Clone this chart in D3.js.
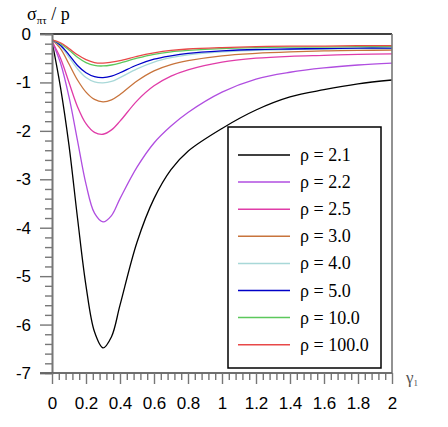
<!DOCTYPE html>
<html>
<head>
<meta charset="utf-8">
<script src="https://cdn.jsdelivr.net/npm/d3@7"></script>
<style>
  body { margin: 0; background: #fff; }
  svg { display: block; }
</style>
</head>
<body>
<div id="chart"></div>
<script>
// gamma_1 sample positions
const gammaVals = [0, 0.05, 0.1, 0.15, 0.2, 0.25, 0.3, 0.35, 0.4, 0.5, 0.6, 0.7, 0.8, 1.0, 1.2, 1.4, 1.6, 1.8, 2.0];

// sigma / p, one array per rho
const rho21  = [-0.15, -1.1, -2.3, -3.8, -5.2, -6.15, -6.48, -6.25, -5.6, -4.3, -3.4, -2.8, -2.42, -1.95, -1.57, -1.3, -1.15, -1.03, -0.95];
const rho22  = [-0.15, -0.6, -1.3, -2.2, -3.1, -3.7, -3.88, -3.75, -3.4, -2.75, -2.25, -1.9, -1.62, -1.2, -0.93, -0.79, -0.7, -0.64, -0.6];
const rho25  = [-0.15, -0.5, -1.0, -1.5, -1.85, -2.03, -2.07, -1.98, -1.8, -1.38, -1.07, -0.87, -0.74, -0.58, -0.5, -0.46, -0.44, -0.42, -0.41];
const rho30  = [-0.12, -0.3, -0.62, -0.95, -1.2, -1.35, -1.4, -1.36, -1.25, -0.97, -0.76, -0.63, -0.55, -0.45, -0.4, -0.37, -0.35, -0.34, -0.33];
const rho40  = [-0.12, -0.25, -0.48, -0.72, -0.9, -0.99, -1.01, -0.98, -0.9, -0.72, -0.58, -0.49, -0.43, -0.37, -0.34, -0.32, -0.31, -0.3, -0.3];
const rho50  = [-0.12, -0.23, -0.43, -0.65, -0.8, -0.88, -0.9, -0.87, -0.8, -0.64, -0.52, -0.45, -0.4, -0.35, -0.32, -0.31, -0.3, -0.29, -0.29];
const rho100 = [-0.12, -0.2, -0.33, -0.48, -0.59, -0.65, -0.66, -0.64, -0.6, -0.5, -0.42, -0.37, -0.34, -0.3, -0.28, -0.27, -0.27, -0.26, -0.26];
const rho1000 = [-0.12, -0.18, -0.3, -0.43, -0.53, -0.59, -0.6, -0.58, -0.55, -0.46, -0.39, -0.34, -0.31, -0.28, -0.26, -0.25, -0.25, -0.24, -0.24];

const seriesLabels = ["ρ = 2.1", "ρ = 2.2", "ρ = 2.5", "ρ = 3.0", "ρ = 4.0", "ρ = 5.0", "ρ = 10.0", "ρ = 100.0"];
const seriesValues = [rho21, rho22, rho25, rho30, rho40, rho50, rho100, rho1000];
const seriesColors = ["#000000", "#b04ee0", "#e03ca8", "#c8743c", "#a8d8d8", "#0000c8", "#5cc85c", "#e84848"];

const xTickLabels = [0, 0.2, 0.4, 0.6, 0.8, 1, 1.2, 1.4, 1.6, 1.8, 2];
const yTickLabels = [0, -1, -2, -3, -4, -5, -6, -7];

const serifFont = "'Liberation Serif', 'DejaVu Serif', serif";
const sansFont = "'Liberation Sans', Arial, sans-serif";

const W = 448, H = 427;
const plotLeft = 52, plotRight = 392, plotTop = 34, plotBottom = 373;

const svg = d3.select("#chart").append("svg")
    .attr("width", W)
    .attr("height", H);

const x = d3.scaleLinear().domain([0, 2]).range([plotLeft, plotRight]);
const y = d3.scaleLinear().domain([0, -7]).range([plotTop, plotBottom]);

svg.append("defs").append("clipPath").attr("id", "plot")
  .append("rect")
    .attr("x", plotLeft).attr("y", plotTop)
    .attr("width", plotRight - plotLeft).attr("height", plotBottom - plotTop);

// curves
const line = d3.line()
    .x(d => x(d[0]))
    .y(d => y(d[1]))
    .curve(d3.curveCatmullRom.alpha(0.5));

const curves = svg.append("g").attr("clip-path", "url(#plot)");
seriesValues.forEach((vals, i) => {
    curves.append("path")
        .datum(gammaVals.map((g, k) => [g, vals[k]]))
        .attr("fill", "none")
        .attr("stroke", seriesColors[i])
        .attr("stroke-width", 1.3)
        .attr("d", line);
});

// frame: top black, right grey
svg.append("line")
    .attr("x1", 40).attr("x2", plotRight)
    .attr("y1", plotTop).attr("y2", plotTop)
    .attr("stroke", "#000").attr("stroke-width", 1.6);
svg.append("line")
    .attr("x1", plotRight).attr("x2", plotRight)
    .attr("y1", plotTop).attr("y2", plotBottom)
    .attr("stroke", "#777").attr("stroke-width", 1.6);

// left axis
const yMinor = d3.range(0, 35).map(k => -k * 0.2).filter(v => Math.abs(v - Math.round(v)) > 1e-6);
const yAxisMajor = d3.axisLeft(y).tickValues(yTickLabels).tickSize(12).tickFormat(d3.format("d"));
const yAxisMinor = d3.axisLeft(y).tickValues(yMinor).tickSize(7).tickFormat("");

const gyMinor = svg.append("g").attr("transform", `translate(${plotLeft},0)`).call(yAxisMinor);
const gy = svg.append("g").attr("transform", `translate(${plotLeft},0)`).call(yAxisMajor);
[gy, gyMinor].forEach(g => {
    g.select(".domain").attr("stroke", "#777").attr("stroke-width", 1.6);
    g.selectAll(".tick line").attr("stroke", "#777").attr("stroke-width", 1.4);
});
gy.selectAll(".tick text")
    .attr("x", -21)
    .style("font-family", sansFont)
    .style("font-size", "17px")
    .attr("fill", "#000")
    .text(d => d === 0 ? "0" : "-" + Math.abs(d));

// bottom axis
const xMinor = d3.range(0, 51).map(k => k * 0.04).filter(v => Math.abs(v / 0.2 - Math.round(v / 0.2)) > 1e-6);
const xAxisMajor = d3.axisBottom(x).tickValues(xTickLabels).tickSize(11).tickFormat(d => String(d));
const xAxisMinor = d3.axisBottom(x).tickValues(xMinor).tickSize(7).tickFormat("");

const gxMinor = svg.append("g").attr("transform", `translate(0,${plotBottom})`).call(xAxisMinor);
const gx = svg.append("g").attr("transform", `translate(0,${plotBottom})`).call(xAxisMajor);
[gx, gxMinor].forEach(g => {
    g.select(".domain").attr("stroke", "#666").attr("stroke-width", 1.6)
        .attr("d", `M${40},0H${plotRight}`);
    g.selectAll(".tick line").attr("stroke", "#777").attr("stroke-width", 1.4);
});
gx.selectAll(".tick text")
    .attr("y", 24)
    .style("font-family", sansFont)
    .style("font-size", "17px")
    .attr("fill", "#000");

// axis titles
const yTitle = svg.append("text")
    .attr("x", 27).attr("y", 20)
    .style("font-family", serifFont)
    .style("font-size", "18px")
    .attr("fill", "#000");
yTitle.append("tspan").text("σ");
yTitle.append("tspan").style("font-size", "11px").attr("dy", 4).text("πτ");
yTitle.append("tspan").attr("dy", -4).text(" / p");

const xTitle = svg.append("text")
    .attr("x", 406).attr("y", 383)
    .style("font-family", serifFont)
    .style("font-size", "17px")
    .attr("fill", "#555");
xTitle.append("tspan").text("γ");
xTitle.append("tspan").style("font-size", "9px").attr("dy", 3).text("1");

// legend
const legend = svg.append("g");
legend.append("rect")
    .attr("x", 228).attr("y", 127)
    .attr("width", 153).attr("height", 241)
    .attr("fill", "#fff")
    .attr("stroke", "#000")
    .attr("stroke-width", 1.5);

seriesLabels.forEach((lab, i) => {
    const ly = 155 + i * 27.1;
    legend.append("line")
        .attr("x1", 238).attr("x2", 290)
        .attr("y1", ly).attr("y2", ly)
        .attr("stroke", seriesColors[i])
        .attr("stroke-width", 1.5);
    legend.append("text")
        .attr("x", 300).attr("y", ly + 6)
        .style("font-family", serifFont)
        .style("font-size", "18px")
        .attr("fill", "#000")
        .text(lab);
});
</script>
</body>
</html>
